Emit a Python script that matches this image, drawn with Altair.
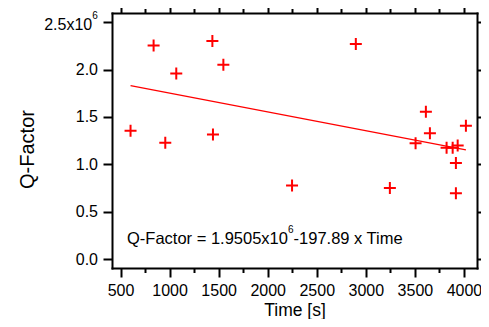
import altair as alt
import pandas as pd

# ---- data ----
time_s = [602, 837, 956, 1068, 1436, 1442, 1548, 2248, 2898, 3245,
          3507, 3612, 3653, 3823, 3885, 3936, 3918, 3918, 4020]
q_factor = [1354000, 2253000, 1228000, 1958000, 2299000, 1315000, 2050000,
            778000, 2268000, 753000, 1224000, 1554000, 1330000, 1175000,
            1175000, 1199000, 1017000, 698000, 1407000]

# fitted line (coefficients printed on the chart)
fit_intercept = 1.9505e6
fit_slope = -197.89

x_ticks = list(range(500, 4001, 250))
y_ticks = [0, 500000, 1000000, 1500000, 2000000, 2500000]
x_domain = [413, 4133]
y_domain = [-89600, 2594800]

anno_parts = ["Q-Factor = 1.9505x10", "6", "-197.89 x Time"]
top_label_parts = ["2.5x10", "6"]

FONT = "Liberation Sans"
RED = "#ff0000"

# Arial / Liberation Sans advance widths (per 1000 em)
_W = {'Q': 778, '-': 333, 'F': 611, 'a': 556, 'c': 500, 't': 278, 'o': 556,
      'r': 333, ' ': 278, '=': 584, '.': 278, 'x': 500, 'T': 611, 'i': 222,
      'm': 833, 'e': 556}


def text_width(s, size):
    return sum(_W.get(ch, 556) for ch in s) * size / 1000.0


pts = pd.DataFrame({"time": time_s, "q": q_factor})
fit_x = [min(time_s), max(time_s)]
fit = pd.DataFrame({"time": fit_x, "q": [fit_intercept + fit_slope * v for v in fit_x]})
one = pd.DataFrame({"k": [0]})

xs = alt.Scale(domain=x_domain, nice=False, zero=False)
ys = alt.Scale(domain=y_domain, nice=False, zero=False)

tick_expr = {"expr": "datum.value % 500 === 0 ? 9 : 4.5"}

ax_bottom = alt.Axis(orient="bottom", values=x_ticks,
                     labelExpr="datum.value % 500 === 0 ? format(datum.value, 'd') : ''",
                     tickSize=tick_expr, tickWidth=2, domainWidth=2, domainCap="square",
                     labelFontSize=16, labelPadding=5, labelFlush=False, labelOverlap=False,
                     title="Time [s]", titleFontSize=17.5, titleFontWeight="normal",
                     titleBaseline="alphabetic", titleY=47, grid=False)
ax_top = alt.Axis(orient="top", values=x_ticks, labels=False, tickSize=tick_expr,
                  tickWidth=2, domainWidth=2, domainCap="square", title=None, grid=False)
ax_left = alt.Axis(orient="left", values=y_ticks,
                   labelExpr="datum.value >= 2400000 ? '' : format(datum.value / 1000000, '.1f')",
                   tickSize=9, tickWidth=2, domainWidth=2, domainCap="square",
                   labelFontSize=16, labelPadding=5.5, labelOverlap=False, labelFlush=False,
                   title="Q-Factor", titleFontSize=20, titleFontWeight="normal",
                   titleBaseline="alphabetic", titleX=-78.7, titleY=136, grid=False)
ax_right = alt.Axis(orient="right", values=y_ticks, labels=False, tickSize=9,
                    tickWidth=2, domainWidth=2, domainCap="square", title=None, grid=False)

points = alt.Chart(pts).mark_point(
    shape="M-1,0H1M0,-1V1", filled=False, color=RED, strokeWidth=2, size=144, opacity=1
).encode(
    x=alt.X("time:Q", scale=xs, axis=ax_bottom),
    y=alt.Y("q:Q", scale=ys, axis=ax_left),
)

line = alt.Chart(fit).mark_line(color=RED, strokeWidth=1.3).encode(
    x=alt.X("time:Q", scale=xs, axis=ax_top),
    y=alt.Y("q:Q", scale=ys, axis=ax_right),
)

# annotation with superscript
anno_time = 566
anno_q = 163000
a_size = 16.5
s_size = 10
w1 = text_width(anno_parts[0], a_size)
w_sup = text_width(anno_parts[1], s_size)


def anno(txt, dx, dy, size):
    return alt.Chart(one).mark_text(
        text=txt, align="left", baseline="alphabetic", font=FONT, fontSize=size,
        color="black", dx=dx, dy=dy
    ).encode(
        x=alt.X(datum=anno_time, scale=xs, axis=None),
        y=alt.Y(datum=anno_q, scale=ys, axis=None),
    )


a1 = anno(anno_parts[0], 0, 0, a_size)
a2 = anno(anno_parts[1], w1, -11.5, s_size)
a3 = anno(anno_parts[2], w1 + w_sup, 0, a_size)

# top y-axis label "2.5x10^6"
t1 = alt.Chart(one).mark_text(
    text=top_label_parts[0], align="right", baseline="alphabetic", font=FONT,
    fontSize=16, color="black", dy=8.4
).encode(x=alt.value(-19.8), y=alt.Y(datum=y_ticks[-1], scale=ys, axis=None))
t2 = alt.Chart(one).mark_text(
    text=top_label_parts[1], align="left", baseline="alphabetic", font=FONT,
    fontSize=10, color="black", dy=-3.3
).encode(x=alt.value(-19.8), y=alt.Y(datum=y_ticks[-1], scale=ys, axis=None))

chart = alt.layer(points, line, a1, a2, a3, t1, t2).resolve_axis(
    x="independent", y="independent"
).properties(
    width=365, height=255,
    autosize=alt.AutoSizeParams(type="none"),
    padding={"left": 104, "top": 5, "right": 4, "bottom": 51},
    background="white",
).configure_view(stroke=None).configure_axis(
    domainColor="black", tickColor="black", labelColor="black", titleColor="black",
    labelFont=FONT, titleFont=FONT
)

chart.save("out.html", embed_options={"renderer": "svg", "actions": False})
